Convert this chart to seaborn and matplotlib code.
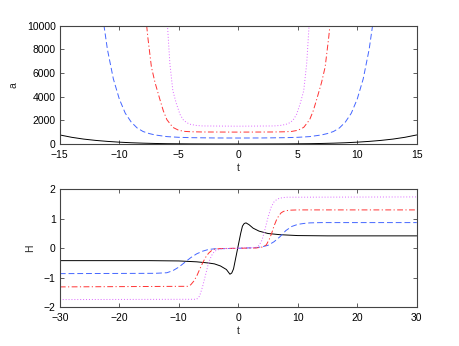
import matplotlib
matplotlib.use('Agg')
import matplotlib.pyplot as plt
import seaborn as sns

# ============================================================
# DATA
# ============================================================

# --- top panel: a(t) ---
black_t = [-15, -14, -13, -12, -11, -10, -9, -8, -7, -6, -4, -2, 0,
           2, 4, 6, 7, 8, 9, 10, 11, 12, 13, 14, 15]
black_a = [760, 560, 410, 300, 215, 150, 100, 65, 40, 22, 6, 1, 0,
           1, 6, 22, 40, 65, 100, 150, 215, 300, 410, 560, 760]

blue_t = [-11.4, -11, -10.5, -10, -9.5, -9, -8.5, -8, -7.5, -7, -6, -5, -4, -2, 0,
          2, 4, 5, 6, 7, 7.5, 8, 8.5, 9, 9.5, 10, 10.5, 11, 11.4]
blue_a = [10800, 8000, 5500, 3800, 2600, 1850, 1350, 1050, 880, 760, 620, 560, 530, 505, 500,
          505, 530, 560, 620, 760, 880, 1050, 1350, 1850, 2600, 3800, 5500, 8000, 10800]

red_t = [-7.9, -7.6, -7.3, -7, -6.6, -6.3, -6, -5.5, -5, -4.5, -4, -3, 0,
         3, 4, 4.5, 5, 5.5, 6, 6.3, 6.6, 7, 7.3, 7.6, 7.9]
red_a = [12000, 9000, 6500, 5200, 3800, 2800, 2050, 1400, 1150, 1060, 1030, 1010, 1000,
         1010, 1030, 1060, 1150, 1400, 2050, 2800, 3800, 5200, 6500, 9000, 12000]

mag_t = [-6.1, -5.95, -5.75, -5.5, -5.2, -4.9, -4.6, -4.3, -4, -3.5, -3, 0,
         3, 3.5, 4, 4.3, 4.6, 4.9, 5.2, 5.5, 5.75, 5.95, 6.1]
mag_a = [12000, 10000, 6800, 4500, 3400, 2500, 2000, 1780, 1650, 1560, 1520, 1500,
         1520, 1560, 1650, 1780, 2000, 2500, 3400, 4500, 6800, 10000, 12000]

# --- bottom panel: H(t) ---
black_ht = [-30, -15, -10, -7, -5, -4, -3, -2, -1.4, -1.1, -0.8, -0.5, -0.2,
            0.1, 0.4, 0.7, 1.0, 1.3, 1.8, 2.5, 3.5, 5, 7, 10, 15, 30]
black_h = [-0.42, -0.42, -0.43, -0.46, -0.5, -0.53, -0.6, -0.72, -0.88, -0.84, -0.7, -0.4, -0.1,
           0.2, 0.5, 0.75, 0.84, 0.86, 0.8, 0.68, 0.58, 0.5, 0.46, 0.43, 0.42, 0.42]

blue_ht = [-30, -14, -12, -11, -10, -9, -8, -7, -6, -5, -4, 0,
           3, 4, 5, 6, 7, 8, 9, 10, 11, 12, 14, 30]
blue_h = [-0.86, -0.85, -0.83, -0.76, -0.64, -0.48, -0.32, -0.19, -0.1, -0.04, -0.02, 0.0,
          0.02, 0.05, 0.1, 0.22, 0.39, 0.6, 0.74, 0.81, 0.84, 0.86, 0.87, 0.87]

red_ht = [-30, -8.5, -8, -7.5, -7, -6.5, -6, -5.5, -5, -4.5, -4, -3, 0,
          3, 4, 4.7, 5.2, 5.6, 6, 6.4, 6.8, 7.2, 7.6, 8.5, 10, 30]
red_h = [-1.31, -1.29, -1.24, -1.12, -0.95, -0.72, -0.5, -0.31, -0.17, -0.08, -0.03, -0.01, 0.0,
         0.01, 0.04, 0.11, 0.3, 0.5, 0.75, 0.95, 1.1, 1.2, 1.25, 1.29, 1.3, 1.3]

mag_ht = [-30, -7, -6.5, -6, -5.5, -5, -4.5, -4, -3, 0,
          3, 3.5, 4, 4.5, 5, 5.5, 6, 6.5, 7, 8, 30]
mag_h = [-1.74, -1.73, -1.62, -1.3, -0.9, -0.5, -0.25, -0.1, -0.02, 0.0,
         0.03, 0.1, 0.28, 0.65, 1.05, 1.38, 1.57, 1.66, 1.7, 1.73, 1.74]

top_xticks = [-15, -10, -5, 0, 5, 10, 15]
top_yticks = [0, 2000, 4000, 6000, 8000, 10000]
bot_xticks = [-30, -20, -10, 0, 10, 20, 30]
bot_yticks = [-2, -1, 0, 1, 2]

# ============================================================
# STYLE
# ============================================================

sns.set_style('ticks')
plt.rcParams['font.family'] = ['Liberation Sans', 'DejaVu Sans']
plt.rcParams['font.size'] = 7.5
plt.rcParams['xtick.direction'] = 'in'
plt.rcParams['ytick.direction'] = 'in'
plt.rcParams['xtick.top'] = True
plt.rcParams['ytick.right'] = True

LW = 0.7
series_style = {
    'black': dict(color='black', linestyle='-'),
    'blue':  dict(color='#4466ff', linestyle=(0, (6, 3))),
    'red':   dict(color='#ff3333', linestyle=(0, (6, 2.5, 1.2, 2.5))),
    'mag':   dict(color='#dd66ff', linestyle=(0, (1, 2))),
}

fig = plt.figure(figsize=(4.6, 3.46), dpi=100)
ax1 = fig.add_axes([0.130, 0.584, 0.776, 0.342])
ax2 = fig.add_axes([0.130, 0.112, 0.776, 0.341])

# ============================================================
# TOP PANEL
# ============================================================

for (t, y, key) in [(black_t, black_a, 'black'), (blue_t, blue_a, 'blue'),
                    (red_t, red_a, 'red'), (mag_t, mag_a, 'mag')]:
    sns.lineplot(x=t, y=y, ax=ax1, sort=False, linewidth=LW, **series_style[key])

ax1.set_xlim(-15, 15)
ax1.set_ylim(0, 10000)
ax1.set_xticks(top_xticks)
ax1.set_yticks(top_yticks)
ax1.set_xlabel('t', labelpad=2)
ax1.set_ylabel('a', labelpad=6)

# ============================================================
# BOTTOM PANEL
# ============================================================

for (t, y, key) in [(black_ht, black_h, 'black'), (blue_ht, blue_h, 'blue'),
                    (red_ht, red_h, 'red'), (mag_ht, mag_h, 'mag')]:
    sns.lineplot(x=t, y=y, ax=ax2, sort=False, linewidth=LW, **series_style[key])

ax2.set_xlim(-30, 30)
ax2.set_ylim(-2, 2)
ax2.set_xticks(bot_xticks)
ax2.set_yticks(bot_yticks)
ax2.set_xlabel('t', labelpad=2)
ax2.set_ylabel('H', labelpad=6)

for ax in (ax1, ax2):
    for s in ax.spines.values():
        s.set_color('#444444')
        s.set_linewidth(0.8)
    ax.tick_params(length=3, width=0.6, colors='#444444', labelcolor='black')
    ax.tick_params(axis='x', pad=4.5)
    ax.tick_params(axis='y', pad=3)

fig.savefig('out.png', dpi=100)
